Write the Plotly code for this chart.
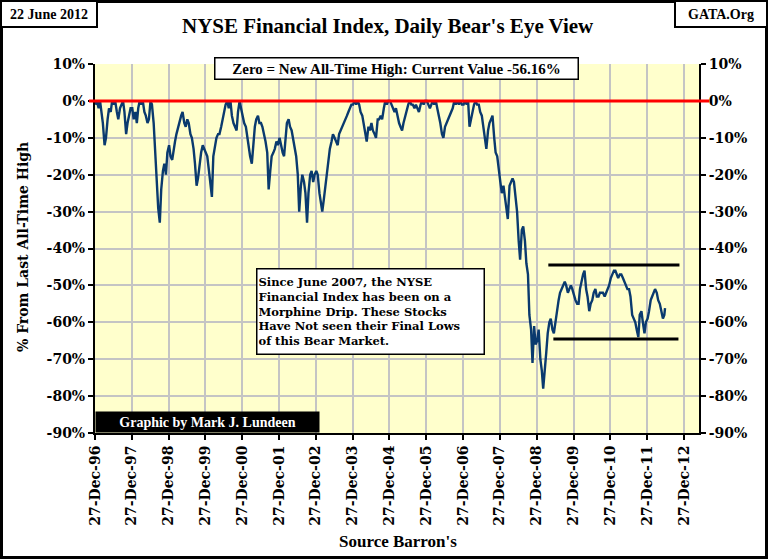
import pandas as pd
import plotly.graph_objects as go

W, H = 768, 559
L, R, T, B = 95, 69, 64, 126   # plot area ends up at x 95..699, y 64..433

start_date = "1996-12-27"
last_date = "2012-06-22"
current_value = -56.16

v1997 = [-1, 0, -2, 0, -3, -6, -12, -10, -5, -2, -3, 0, -1, 0, -3, -5, -2, -1, 0, -3, -9, -6, -4, -2]
v1998 = [-2, -5, -3, -6, -2, 0, -1, 0, -3, -4, -6, -5, 0, -1, -6, -13, -22, -29, -33, -24, -19, -17, -20, -14]
v1999 = [-12, -15, -16, -13, -11, -9, -7, -5, -4, -3, -6, -7, -5, -6, -9, -10, -13, -17, -23, -21, -16, -14, -12, -13]
v2000 = [-14, -15, -19, -22, -26, -15, -12, -10, -9, -9, -7, -5, -3, -1, 0, -2, 0, -4, -6, -7, -8, -3, 0, -2]
v2001 = [-4, -6, -7, -10, -12, -15, -17, -12, -7, -5, -4, -6, -6, -7, -9, -11, -14, -24, -19, -15, -14, -13, -11, -12]
v2002 = [-10, -12, -14, -15, -9, -6, -5, -7, -8, -10, -12, -15, -20, -30, -23, -20, -22, -25, -33, -25, -20, -19, -22, -20]
v2003 = [-19, -20, -25, -27, -30, -27, -23, -19, -16, -13, -11, -9, -10, -11, -12, -9, -8, -7, -6, -5, -4, -3, -2, -1]
v2004 = [-1, 0, -1, 0, -1, -3, -4, -6, -8, -11, -7, -8, -6, -8, -9, -10, -5, -5, -4, -5, -2, 0, -1, 0]
v2005 = [0, -1, -2, -3, -2, -4, -6, -7, -8, -6, -4, -3, -1, 0, -1, -1, -2, -1, -2, -3, -1, 0, -1, 0]
v2006 = [0, -1, -2, -1, 0, -1, 0, -2, -4, -6, -9, -10, -7, -6, -5, -4, -3, -2, 0, -1, 0, -1, 0, -1]
v2007 = [-1, 0, -1, 0, -7, -5, -3, -1, 0, -1, -1, -3, -4, -7, -10, -13, -8, -6, -5, -4, -10, -14, -15, -19]
v2008 = [-22, -25, -23, -26, -29, -32, -23, -22, -21, -22, -26, -30, -38, -43, -35, -34, -38, -44, -47, -58, -62, -71, -61, -66]
v2009 = [-65, -62, -70, -73, -78, -74, -68, -63, -60, -59, -62, -63, -60, -56, -54, -52, -51, -50, -49, -50, -52, -51, -50, -51]
v2010 = [-53, -54, -55, -55, -51, -49, -47, -46, -51, -53, -57, -55, -54, -52, -51, -53, -53, -52, -52, -52, -53, -52, -51, -50]
v2011 = [-48, -47, -46, -46, -47, -48, -47, -47, -48, -49, -50, -51, -51, -53, -58, -59, -60, -62, -64, -58, -57, -60, -63, -60]
v2012 = [-59, -57, -54, -53, -52, -51, -52, -54, -55, -57, -59, -58]

all_time_high = 0

# the two hand drawn channel lines
upper_dates = ["2009-04-21", "2012-11-12"]
upper_level = [-44.5, -44.5]
lower_dates = ["2009-06-10", "2012-11-02"]
lower_level = [-64.5, -64.5]

tick_dates = [f"{y}-12-27" for y in range(1996, 2013)]
tick_text = [f"27-Dec-{y % 100:02d}" for y in range(1996, 2013)]
y_ticks = list(range(-90, 11, 10))
y_text = [f"{v}%" for v in y_ticks]

semi_monthly = pd.date_range("1997-01-01", "2012-06-15", freq="SMS")
dates = [pd.Timestamp(start_date)] + list(semi_monthly) + [pd.Timestamp(last_date)]
values = ([0] + v1997 + v1998 + v1999 + v2000 + v2001 + v2002 + v2003 + v2004
          + v2005 + v2006 + v2007 + v2008 + v2009 + v2010 + v2011 + v2012 + [current_value])
assert len(dates) == len(values)

SERIF = "Liberation Serif"
WIDE = "DejaVu Serif"


def px(x):
    return (x - L) / (W - L - R)


def py(y):
    return (H - B - y) / (H - T - B)


def note(text, x, y, **kw):
    fig.add_annotation(text=text, xref="paper", yref="paper", x=px(x), y=py(y),
                       xanchor="center", yanchor="middle", showarrow=False, **kw)


fig = go.Figure()
fig.add_trace(go.Scatter(x=dates, y=values, mode="lines",
                         line=dict(color="#0a3a6e", width=2.4), showlegend=False))
fig.add_trace(go.Scatter(x=upper_dates, y=upper_level, mode="lines",
                         line=dict(color="black", width=3), showlegend=False))
fig.add_trace(go.Scatter(x=lower_dates, y=lower_level, mode="lines",
                         line=dict(color="black", width=3), showlegend=False))
fig.add_trace(go.Scatter(x=[start_date], y=[all_time_high], yaxis="y2", mode="markers",
                         marker=dict(opacity=0), showlegend=False, hoverinfo="skip"))

axis_font = dict(family=WIDE, size=14, color="black", weight="bold")
yax = dict(range=[-90, 10], tickvals=y_ticks, ticktext=y_text, tickfont=axis_font,
           showline=True, linecolor="black", linewidth=2, ticks="outside",
           ticklen=5, tickcolor="black", tickwidth=1.5, zeroline=False, automargin=False)

fig.update_layout(
    width=W, height=H,
    margin=dict(l=L, r=R, t=T, b=B),
    paper_bgcolor="white",
    plot_bgcolor="#ffffcc",
    xaxis=dict(type="date", range=[start_date, "2013-05-25"], tickvals=tick_dates,
               ticktext=tick_text, tickangle=-90, tickfont=axis_font,
               showgrid=True, gridcolor="#c4c4c4", gridwidth=1.5,
               showline=True, linecolor="black", linewidth=2, ticks="outside",
               ticklen=5, tickcolor="black", tickwidth=1.5, zeroline=False, automargin=False),
    yaxis=dict(**yax, showgrid=True, gridcolor="#c4c4c4", gridwidth=1.5),
    yaxis2=dict(**yax, overlaying="y", side="right", showgrid=False),
    shapes=[
        dict(type="line", xref="paper", yref="y", x0=-6 / 604, x1=1 + 10 / 604,
             y0=all_time_high, y1=all_time_high, line=dict(color="red", width=3), layer="above"),
        dict(type="rect", xref="paper", yref="paper", x0=px(1.5), x1=px(766.5),
             y0=py(1.5), y1=py(557.5), line=dict(color="black", width=3)),
    ],
)

note("<b>22 June 2012</b>", 49, 14, font=dict(family=SERIF, size=14, color="black"),
     bgcolor="white", bordercolor="black", borderwidth=2, width=92, height=22)
note("<b>GATA.Org</b>", 721, 14, font=dict(family=SERIF, size=14, color="black"),
     bgcolor="white", bordercolor="black", borderwidth=2, width=88, height=22)
note("<b>NYSE Financial Index, Daily Bear's Eye View</b>", 388, 26,
     font=dict(family=SERIF, size=21, color="black"))
note("<b>Zero = New All-Time High: Current Value -56.16%</b>", 396, 68.5,
     font=dict(family=SERIF, size=15, color="black"),
     bgcolor="white", bordercolor="black", borderwidth=1.5, width=360, height=18)
note("<b>Since June 2007, the NYSE<br>Financial Index has been on a<br>"
     "Morphine Drip. These Stocks<br>Have Not seen their Final Lows<br>"
     "of this Bear Market.</b>", 370, 311.5, align="left",
     font=dict(family=WIDE, size=11.5, color="black"),
     bgcolor="white", bordercolor="black", borderwidth=1.5, width=224, height=82)
note("<b>Graphic by Mark J. Lundeen</b>", 207.5, 422,
     font=dict(family=SERIF, size=14, color="white"), bgcolor="black", width=221, height=18)
note("<b>% From Last All-Time High</b>", 23, 247, textangle=-90,
     font=dict(family=WIDE, size=14, color="black"))
note("<b>Source Barron's</b>", 398, 541, font=dict(family=SERIF, size=17, color="black"))

# the page's default body margin would push the figure 8px right and down
fig.write_html("out.html", config={"displayModeBar": False},
               post_script="document.body.style.margin = '0';")
